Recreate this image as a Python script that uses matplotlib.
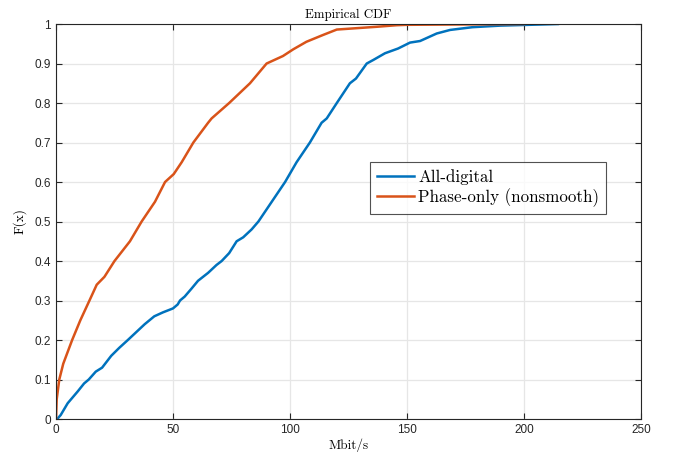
import matplotlib
matplotlib.use('Agg')
import matplotlib.pyplot as plt

# Empirical CDF (x in Mbit/s, F(x))
digital_x = [0.5, 2, 5, 9.3, 12, 14, 17, 19.7, 23.6, 27, 30.7, 34.3, 37.9, 42, 45.7,
             50, 52, 53, 55, 57.9, 60.7, 65, 68.6, 70.8, 74, 77.2, 80, 83.6, 86.5,
             92.2, 97.9, 102.8, 108.5, 113.5, 115.7, 120, 125.6, 128.2, 132.8, 135.6,
             140.6, 146.2, 151.3, 155.6, 162.7, 168.4, 178, 190, 214.5]
digital_f = [0.0, 0.01, 0.04, 0.07, 0.09, 0.10, 0.12, 0.13, 0.16, 0.18, 0.20, 0.22, 0.24, 0.26, 0.27,
             0.28, 0.29, 0.30, 0.31, 0.33, 0.35, 0.37, 0.39, 0.40, 0.42, 0.45, 0.46, 0.48, 0.50,
             0.55, 0.60, 0.65, 0.70, 0.75, 0.761, 0.80, 0.85, 0.862, 0.90, 0.909,
             0.926, 0.938, 0.953, 0.957, 0.976, 0.985, 0.992, 0.996, 1.0]

phase_x = [0, 0.3, 1.4, 3.1, 6.9, 10.4, 14.3, 17.4, 20.7, 25, 31.6, 36.6,
           42.3, 46.6, 50.3, 53.7, 58.7, 65, 66.5, 74, 82.9, 90, 97, 101.4, 107,
           114, 120, 137, 145.6, 150, 200]
phase_f = [0.0, 0.05, 0.10, 0.14, 0.20, 0.25, 0.30, 0.34, 0.36, 0.40, 0.45, 0.50,
           0.55, 0.60, 0.62, 0.65, 0.70, 0.75, 0.761, 0.80, 0.85, 0.90, 0.919, 0.936, 0.955,
           0.972, 0.986, 0.993, 0.997, 0.998, 1.0]

x_ticks = [0, 50, 100, 150, 200, 250]
y_ticks = [0, 0.1, 0.2, 0.3, 0.4, 0.5, 0.6, 0.7, 0.8, 0.9, 1]
y_tick_labels = ['0', '0.1', '0.2', '0.3', '0.4', '0.5', '0.6', '0.7', '0.8', '0.9', '1']

fig = plt.figure(figsize=(6.78, 4.55), dpi=100)
ax = fig.add_axes([0.0826, 0.0791, 0.8628, 0.8681])

ax.plot(digital_x, digital_f, color='#0072BD', linewidth=1.8, label='All-digital')
ax.plot(phase_x, phase_f, color='#D95319', linewidth=1.8, label='Phase-only (nonsmooth)')

ax.set_xlim(0, 250)
ax.set_ylim(0, 1)
ax.set_xticks(x_ticks)
ax.set_yticks(y_ticks)
ax.set_yticklabels(y_tick_labels)
ax.tick_params(direction='in', top=True, right=True, length=4, width=0.8,
               colors='#262626', labelsize=8.5)
for lab in ax.get_xticklabels() + ax.get_yticklabels():
    lab.set_family('Liberation Sans')
for sp in ax.spines.values():
    sp.set_color('#262626')
    sp.set_linewidth(0.8)
ax.grid(True, color='#e6e6e6', linewidth=0.9)
ax.set_axisbelow(True)

ax.set_title('Empirical CDF', family='cmr10', fontsize=9.3, pad=4)
ax.set_xlabel('Mbit/s', family='cmr10', fontsize=9.5, labelpad=2)
ax.set_ylabel('F(x)', family='cmr10', fontsize=9.5, labelpad=6)

leg = ax.legend(loc='upper left', bbox_to_anchor=(0.537, 0.65), fancybox=False,
                prop={'family': 'cmr10', 'size': 12.2}, handlelength=2.2,
                borderpad=0.4, labelspacing=0.2, handletextpad=0.25, borderaxespad=0)
leg.get_frame().set_edgecolor('#262626')
leg.get_frame().set_linewidth(0.8)

plt.savefig('out.png', dpi=100)
plt.close()
